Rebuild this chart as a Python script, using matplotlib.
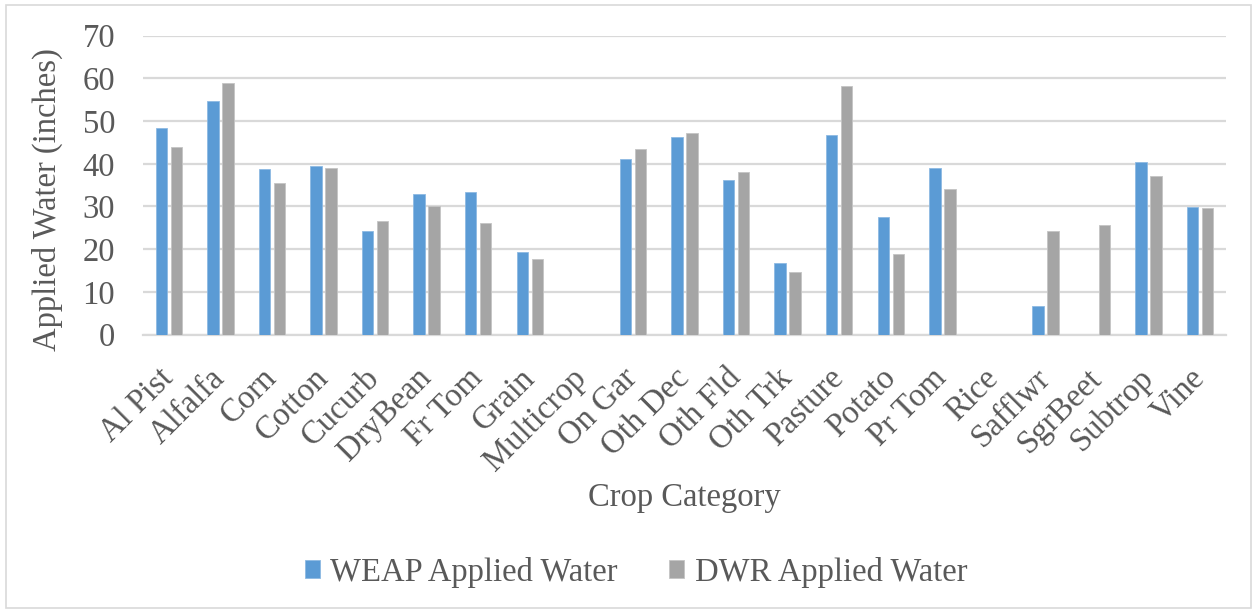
import numpy as np
import matplotlib
matplotlib.use("Agg")
import matplotlib.pyplot as plt
from matplotlib.patches import Rectangle

# cultivos y agua aplicada (pulgadas)
cultivos = ["Al Pist", "Alfalfa", "Corn", "Cotton", "Cucurb", "DryBean", "Fr Tom",
            "Grain", "Multicrop", "On Gar", "Oth Dec", "Oth Fld", "Oth Trk", "Pasture",
            "Potato", "Pr Tom", "Rice", "Safflwr", "SgrBeet", "Subtrop", "Vine"]
weap = [48.3, 54.8, 38.7, 39.5, 24.3, 33.0, 33.5, 19.3, 0, 41.0, 46.3, 36.2, 16.7,
        46.7, 27.6, 38.9, 0, 6.6, 0, 40.5, 29.8]
dwr = [44.0, 58.9, 35.5, 39.1, 26.7, 30.0, 26.1, 17.7, 0, 43.4, 47.1, 38.0, 14.6,
       58.2, 18.8, 34.0, 0, 24.3, 25.6, 37.2, 29.7]
series = ["WEAP Applied Water", "DWR Applied Water"]
yticks = [0, 10, 20, 30, 40, 50, 60, 70]

plt.rcParams['font.family'] = ['Liberation Serif', 'DejaVu Serif']
texto = "#595959"
rejilla = "#D9D9D9"
fs = 23.5

fig = plt.figure(figsize=(12.53, 6.11), dpi=100)
ax = fig.add_axes([143 / 1253, 1 - 334.5 / 611, (1226 - 143) / 1253, (334.5 - 35.7) / 611])

x = np.arange(len(cultivos))
ancho = 0.22
sep = 0.29
ax.bar(x - sep / 2, weap, ancho, color="#5B9BD5", edgecolor="#8DBAE3", linewidth=0.6,
       label=series[0], zorder=3)
ax.bar(x + sep / 2, dwr, ancho, color="#A5A5A5", edgecolor="#C4C4C4", linewidth=0.6,
       label=series[1], zorder=3)

ax.set_xlim(-0.5, len(cultivos) - 0.5)
ax.set_ylim(0, 70)
ax.set_yticks(yticks)
ax.yaxis.grid(True, color=rejilla, linewidth=1.6, zorder=0)
ax.set_axisbelow(True)
for s in ["top", "right", "left"]:
    ax.spines[s].set_visible(False)
ax.spines["bottom"].set_color(rejilla)
ax.spines["bottom"].set_linewidth(1.6)
ax.tick_params(axis="both", length=0, labelsize=fs, colors=texto)
ax.tick_params(axis="y", pad=20)

ax.set_xticks(x)
ax.set_xticklabels(cultivos, rotation=45, ha="right", va="center", rotation_mode="anchor")
ax.tick_params(axis="x", pad=28)

ax.set_ylabel("Applied Water (inches)", fontsize=fs, color=texto)
ax.yaxis.set_label_coords(-0.088, 0.45)
ax.yaxis.label.set_va("center")
ax.set_xlabel("Crop Category", fontsize=fs, color=texto)
ax.xaxis.set_label_coords(0.5, -0.547)
ax.xaxis.label.set_va("center")

ax.legend(loc="center", bbox_to_anchor=(0.455, -0.795), ncol=2, frameon=False,
          fontsize=fs, labelcolor=texto, handlelength=0.46, handleheight=0.49,
          handletextpad=0.31, columnspacing=1.6)

# marco exterior
fig.patches.append(Rectangle((6 / 1253, 3 / 611), 1245 / 1253, 603 / 611,
                             transform=fig.transFigure, fill=False,
                             edgecolor=rejilla, linewidth=1.2))

fig.savefig("out.png", dpi=100, facecolor="white")
